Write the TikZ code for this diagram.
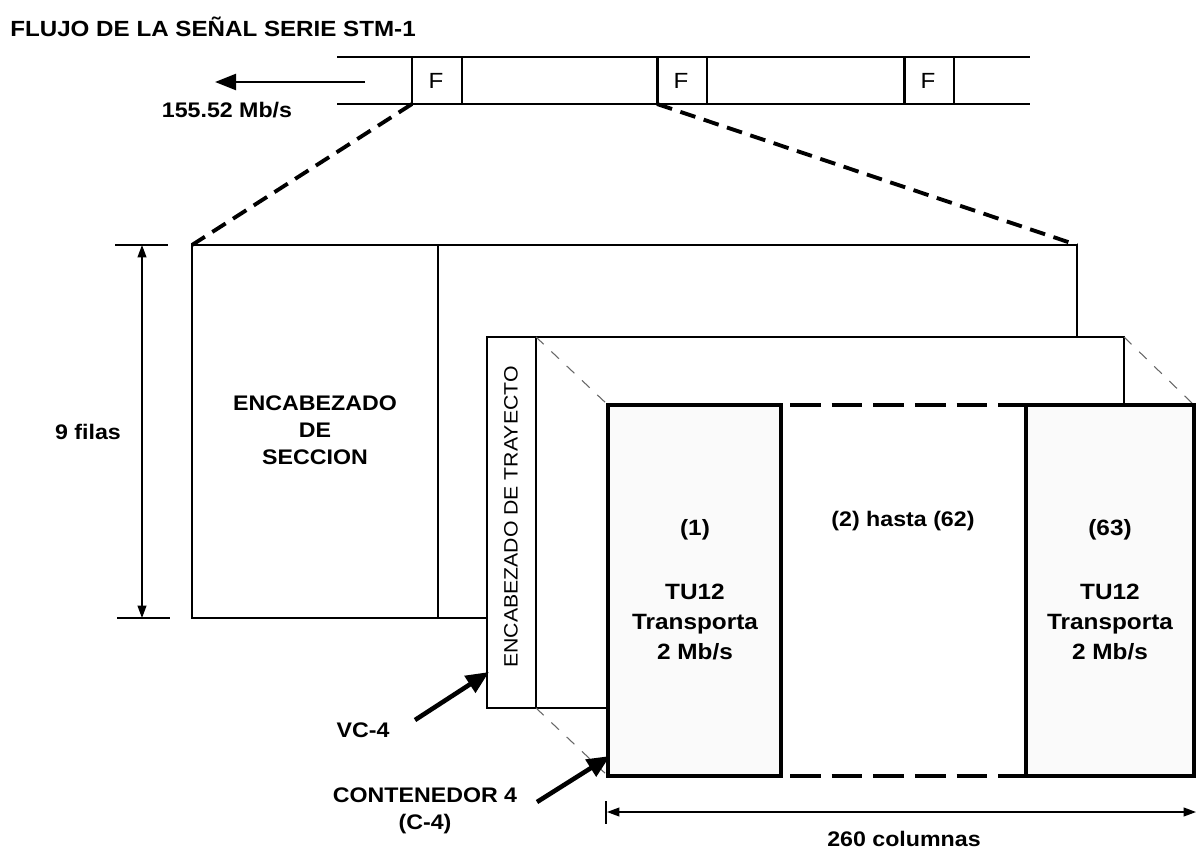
\documentclass[tikz,border=0pt]{standalone}
\usepackage{fontspec}
\setmainfont{Liberation Sans}[FakeStretch=1.1]
\usetikzlibrary{arrows.meta}
\tikzset{
  txt/.style={font=\bfseries\fontsize{12}{15.3}\selectfont, align=center, inner sep=0pt},
  tutxt/.style={font=\bfseries\fontsize{12.6}{17}\selectfont, align=center, inner sep=0pt},
  regtxt/.style={font=\fontsize{11}{13}\selectfont, inner sep=0pt},
  zoomline/.style={line width=2.2pt, dash pattern=on 9pt off 5pt},
  thinzoom/.style={line width=0.6pt, gray!80!black, dash pattern=on 6pt off 6pt},
  dim/.style={line width=0.8pt, {Triangle[length=7pt,width=5pt]}-{Triangle[length=7pt,width=5pt]}},
  pointer/.style={line width=2.6pt, -{Triangle[length=13pt,width=11pt]}},
  tubox/.style={line width=2.3pt, fill=gray!4},
}
\begin{document}
\begin{tikzpicture}[x=0.02cm,y=-0.02cm]
    \useasboundingbox (0,0) rectangle (1197,852);
    % Titulo
    \node[txt, font=\bfseries\fontsize{12.5}{15}\selectfont, anchor=west] (titulo) at (10,27) {FLUJO DE LA SEÑAL SERIE STM-1};

    % Flujo serie con las tramas F
    \draw[line width=1.7pt] (337,57) -- (1030,57) (337,104) -- (1030,104);
    \foreach \f/\n in {412/fa,657/fb,904/fc}{
      \draw[line width=1.7pt] (\f,57) -- (\f,104);
      \draw[line width=0.8pt] (\f+50,57) -- (\f+50,104);
      \node[regtxt, font=\fontsize{12.5}{14}\selectfont] (\n) at (\f+24,80.5) {F};
      \coordinate (\n-sw) at (\f,104);
    }
    \coordinate (flujo) at (365,82);
    \coordinate (flujo-fin) at (215,82);
    \draw[line width=1.7pt, -{Triangle[length=12pt,width=9pt]}] (flujo) -- (flujo-fin);
    \node[txt] (tasa) at (227,110) {155.52 Mb/s};

    % Trama STM-1
    \coordinate (m-nw) at (192,245);
    \coordinate (m-ne) at (1077,245);
    \draw[line width=1.4pt] (487,618) -- (192,618) -- (m-nw) -- (m-ne) -- (1077,337);
    \draw[line width=1.4pt] (438,245) -- (438,618);
    \node[txt] (seccion) at (315,430) {ENCABEZADO\\DE\\SECCION};
    \draw[zoomline] (fa-sw) -- (m-nw);
    \draw[zoomline] (fb-sw) -- (m-ne);

    % 9 filas
    \coordinate (f-top) at (142,245);
    \coordinate (f-bot) at (142,618);
    \draw[line width=0.9pt] (115,245) -- (168,245) (117,618) -- (170,618);
    \draw[dim] (f-top) -- (f-bot);
    \node[txt] (filas) at (88,432) {9 filas};

    % VC-4
    \draw[line width=0.7pt, fill=white] (487,337) rectangle (1124,708);
    \draw[line width=0.7pt] (536,337) -- (536,708);
    \node[regtxt, rotate=90] (trayecto) at (511,517) {ENCABEZADO DE TRAYECTO};

    % Contenedor 4
    \draw[thinzoom] (536,337) -- (608,405);
    \draw[thinzoom] (1124,337) -- (1194,405);
    \draw[thinzoom] (536,708) -- (608,776);
    \fill[white] (608,405) rectangle (1194,776);
    \draw[tubox] (608,405) rectangle (781,776);
    \draw[tubox] (1026,405) rectangle (1194,776);
    \draw[line width=2.3pt, dash pattern=on 17.5pt off 6.2pt] (790,405) -- (1026,405) (790,776) -- (1026,776);
    \node[tutxt] (tu1) at (695,530) {(1)};
    \node[tutxt] (tu1txt) at (695,622) {TU12\\Transporta\\2 Mb/s};
    \node[txt] (resto) at (903,521) {(2) hasta (62)};
    \node[tutxt] (tu63) at (1110,530) {(63)};
    \node[tutxt] (tu63txt) at (1110,622) {TU12\\Transporta\\2 Mb/s};

    % Etiquetas con flechas
    \node[txt] (vc4) at (363,730) {VC-4};
    \coordinate (vc4-a) at (415,720);
    \coordinate (vc4-b) at (489,672);
    \draw[pointer] (vc4-a) -- (vc4-b);
    \node[txt] (c4) at (425,811) {CONTENEDOR 4\\(C-4)};
    \coordinate (c4-a) at (537,802);
    \coordinate (c4-b) at (610,756);
    \draw[pointer] (c4-a) -- (c4-b);

    % 260 columnas
    \coordinate (col-a) at (607,812);
    \coordinate (col-b) at (1196,812);
    \draw[line width=1.6pt] (606,801) -- (606,824);
    \draw[dim] (col-a) -- (col-b);
    \node[txt] (columnas) at (904,839) {260 columnas};
\end{tikzpicture}
\end{document}
